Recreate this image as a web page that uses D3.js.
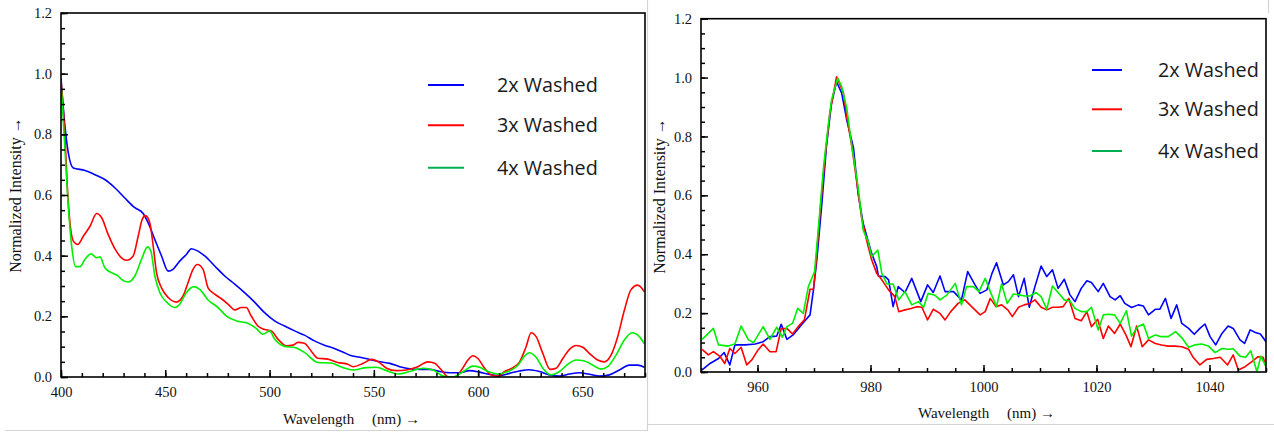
<!DOCTYPE html>
<html><head><meta charset="utf-8">
<script src="https://cdn.jsdelivr.net/npm/d3@7"></script>
<style>
html,body{margin:0;padding:0;background:#fff;}
svg{display:block;}
</style></head><body>
<svg id="c" width="1274" height="434"></svg>
<script>
// ---------- data ----------
const seriesNames = ["2x Washed", "3x Washed", "4x Washed"];
const lineColors = ["#0000ff", "#ff0000", "#00ee00"];
const legendColors = ["#0000ff", "#ff0000", "#00b050"];

const leftXTicks = [400, 450, 500, 550, 600, 650];
const rightXTicks = [960, 980, 1000, 1020, 1040];
const yTicks = [0, 0.2, 0.4, 0.6, 0.8, 1.0, 1.2];

// Left panel (visible range) : [wavelength nm, normalized intensity]
const left2x = [[400,0.985],[401.9,0.826],[403.5,0.739],[405.9,0.689],[411.5,0.681],[416.3,0.667],[421,0.651],[425.8,0.624],[430.6,0.59],[435.4,0.558],[439.4,0.539],[441.8,0.508],[445,0.453],[448.2,0.399],[451.4,0.349],[453.7,0.355],[456.9,0.382],[460.1,0.404],[462.5,0.423],[465.7,0.415],[468.9,0.399],[473.7,0.366],[478.5,0.333],[483.3,0.306],[488,0.278],[492.8,0.247],[497.6,0.212],[502.4,0.185],[507.2,0.168],[512,0.152],[516.7,0.138],[521.5,0.119],[526.3,0.105],[531.1,0.094],[535.9,0.08],[538.5,0.072],[543.3,0.065],[548.1,0.058],[552.9,0.05],[557.7,0.045],[562.4,0.034],[567.2,0.027],[572,0.025],[576.8,0.025],[581.6,0.018],[586.4,0.014],[591.1,0.014],[595.9,0.021],[600.7,0.016],[605.5,0.008],[610.3,0.005],[615.1,0.012],[619.9,0.02],[624.6,0.024],[629.4,0.018],[634.2,0.007],[639,0.003],[643.8,0.01],[648.6,0.014],[653.3,0.009],[658.1,0.003],[662.9,0.007],[667.7,0.023],[672.5,0.039],[676.5,0.039],[679.7,0.032]];
const left3x = [[400,0.98],[401.9,0.793],[403.2,0.607],[404.3,0.508],[405.9,0.448],[408,0.437],[410.7,0.464],[413.9,0.497],[417.1,0.539],[419.5,0.525],[422.6,0.47],[425.8,0.423],[429,0.393],[431.4,0.385],[434.6,0.399],[437,0.464],[438.9,0.519],[440.5,0.532],[442.6,0.508],[444.2,0.432],[445.8,0.344],[448.2,0.294],[451.4,0.262],[455.3,0.247],[458.5,0.267],[460.9,0.311],[463.3,0.355],[465.4,0.371],[468.1,0.355],[470.5,0.294],[473.7,0.273],[476.9,0.258],[480.1,0.24],[483.3,0.221],[486.5,0.229],[488.8,0.229],[491.2,0.201],[494.4,0.168],[497.6,0.157],[500.8,0.152],[504,0.125],[508,0.103],[511.2,0.105],[513.6,0.114],[516.7,0.111],[519.9,0.086],[523.1,0.062],[527.9,0.059],[532.7,0.048],[537.5,0.042],[540.1,0.034],[544.9,0.045],[548.9,0.058],[552.1,0.05],[556.1,0.029],[560.8,0.021],[565.6,0.023],[570.4,0.032],[576,0.05],[579.2,0.045],[582.4,0.023],[585.6,0.001],[588.8,0],[592,0.023],[595.1,0.056],[597.5,0.07],[599.9,0.061],[603.1,0.029],[606.3,0.007],[609.5,0.003],[612.7,0.018],[616.7,0.031],[619.9,0.05],[623,0.1],[625.4,0.146],[627.8,0.133],[631,0.078],[634.5,0.025],[637.4,0.029],[640.6,0.061],[643.8,0.091],[647,0.104],[650.2,0.098],[653.3,0.078],[657.3,0.056],[660.5,0.05],[663.7,0.072],[666.9,0.133],[670.1,0.22],[673.3,0.288],[676.5,0.303],[679.7,0.281]];
const left4x = [[400,0.975],[401.9,0.75],[403.5,0.563],[405.1,0.432],[407,0.364],[409.1,0.364],[411.5,0.388],[414.4,0.406],[417.1,0.393],[418.7,0.396],[421,0.36],[424.2,0.344],[427.4,0.333],[429,0.322],[432.2,0.313],[435.4,0.333],[438.6,0.388],[441.5,0.429],[443.1,0.415],[445,0.333],[447.4,0.278],[450.6,0.247],[454.5,0.229],[456.9,0.24],[460.1,0.278],[463.8,0.298],[466.5,0.289],[470.5,0.254],[475.3,0.229],[479.3,0.201],[484.1,0.185],[489.6,0.177],[493.6,0.16],[496.8,0.141],[500,0.152],[502.4,0.125],[507.2,0.101],[512,0.097],[516.7,0.081],[523.1,0.048],[529.5,0.046],[535,0.031],[540.1,0.023],[546.5,0.031],[551.3,0.032],[556.1,0.021],[561.6,0.01],[567.2,0.018],[573.6,0.029],[578.4,0.023],[583.2,0.003],[588,0],[592.8,0.018],[597.5,0.036],[600.7,0.032],[604.7,0.018],[609.5,0.01],[614.3,0.018],[619.1,0.039],[622.2,0.069],[624.6,0.08],[627.8,0.065],[631,0.029],[635,0.007],[639,0.018],[643,0.042],[647,0.056],[651,0.053],[655,0.039],[658.9,0.026],[662.1,0.034],[666.1,0.072],[670.1,0.122],[673.8,0.146],[677.3,0.133],[679.7,0.109]];

// Right panel (NIR range)
const right2x = [[950.2,0.007],[951.6,0.029],[953.1,0.046],[954.1,0.066],[955.1,0.024],[956,0.092],[957.8,0.092],[959.6,0.095],[961,0.103],[962.2,0.12],[963.4,0.122],[964.2,0.162],[965.2,0.111],[966.3,0.126],[967.5,0.154],[968.4,0.174],[969.3,0.194],[969.9,0.279],[970.5,0.381],[971.4,0.573],[972.2,0.766],[973.1,0.913],[974,0.986],[974.9,0.947],[975.8,0.856],[977,0.76],[977.8,0.607],[978.7,0.505],[979.6,0.443],[980.2,0.403],[981.1,0.358],[981.4,0.326],[982.6,0.324],[983.2,0.313],[984,0.222],[984.9,0.29],[986.1,0.27],[987.3,0.318],[988.9,0.239],[990.1,0.296],[991.1,0.27],[992.3,0.326],[993.2,0.273],[994.7,0.273],[996.1,0.245],[997.2,0.341],[998.5,0.296],[999.4,0.267],[1000.6,0.279],[1001.5,0.335],[1002.3,0.371],[1003.5,0.296],[1004.4,0.307],[1005.3,0.33],[1006.2,0.256],[1007.2,0.318],[1008.1,0.22],[1009.1,0.29],[1010.2,0.36],[1011.2,0.324],[1012.2,0.347],[1013.2,0.284],[1014.3,0.315],[1015.3,0.262],[1016.2,0.239],[1017.3,0.284],[1018.3,0.31],[1019.1,0.304],[1020.3,0.273],[1021.2,0.301],[1022.4,0.256],[1023.3,0.245],[1024.2,0.259],[1025,0.233],[1026.2,0.219],[1027.4,0.228],[1028.3,0.224],[1029.2,0.194],[1030.4,0.213],[1031.2,0.213],[1032.2,0.25],[1033.2,0.182],[1034.2,0.228],[1035.1,0.165],[1036.3,0.148],[1037.3,0.128],[1038.3,0.148],[1039.2,0.163],[1040.1,0.12],[1041.1,0.092],[1042.2,0.131],[1043.3,0.156],[1044.2,0.148],[1045.4,0.109],[1046.2,0.097],[1047.2,0.143],[1048.1,0.134],[1049,0.129],[1050,0.103]];
const right3x = [[950.2,0.077],[951.3,0.058],[952.2,0.069],[953.4,0.052],[954.2,0.029],[955.1,0.08],[956,0.063],[957.1,0.084],[958.1,0.024],[959,0.041],[960.1,0.075],[961,0.095],[962.2,0.069],[963.3,0.069],[964.2,0.148],[965.2,0.148],[966.2,0.129],[967.2,0.154],[968.3,0.177],[969.3,0.281],[969.9,0.281],[970.2,0.335],[971.1,0.55],[971.9,0.72],[972.8,0.879],[974,1.003],[975.2,0.949],[975.8,0.867],[976.7,0.766],[977.6,0.641],[978.4,0.528],[979.3,0.448],[980.2,0.381],[981.1,0.335],[982,0.313],[983.2,0.279],[984.3,0.256],[985,0.205],[986.1,0.211],[987.2,0.216],[988.2,0.222],[989.1,0.22],[990.1,0.177],[991.1,0.213],[992.3,0.199],[993.2,0.177],[994.2,0.205],[995.5,0.233],[996.7,0.245],[997.9,0.222],[999.4,0.194],[1000.3,0.205],[1001.2,0.25],[1002.2,0.222],[1003.2,0.228],[1004.3,0.211],[1005.1,0.188],[1006.2,0.22],[1007.2,0.228],[1008.2,0.233],[1009.1,0.245],[1010.2,0.22],[1011.2,0.211],[1012.2,0.22],[1013.2,0.22],[1014.1,0.222],[1015.1,0.25],[1016.2,0.182],[1017.3,0.174],[1018.3,0.205],[1019.1,0.154],[1020.2,0.179],[1021.2,0.114],[1022.1,0.156],[1023.2,0.131],[1024.2,0.163],[1025.2,0.126],[1026.1,0.086],[1027.1,0.156],[1028.1,0.086],[1029.2,0.109],[1030.4,0.097],[1031.5,0.092],[1032.7,0.088],[1033.9,0.088],[1035.1,0.086],[1036.3,0.077],[1037.1,0.05],[1038.3,0.024],[1039.5,0.043],[1040.7,0.046],[1041.9,0.05],[1043.2,0.024],[1044.2,0.058],[1045.1,0.007],[1046.3,0.018],[1047.5,0.035],[1048.6,0.052],[1049.5,0.05],[1050,0.018]];
const right4x = [[950.2,0.111],[952.2,0.148],[953.1,0.092],[954.8,0.088],[956,0.095],[957.1,0.156],[958.4,0.109],[959.3,0.1],[961,0.154],[962.2,0.111],[963.4,0.152],[964.4,0.118],[965.2,0.154],[966.2,0.165],[967.1,0.216],[968.1,0.199],[969,0.29],[970.1,0.341],[970.8,0.494],[971.7,0.698],[972.5,0.834],[973.1,0.924],[974.2,0.998],[974.9,0.969],[975.8,0.896],[976.7,0.766],[977.8,0.63],[978.7,0.482],[979.6,0.443],[980.2,0.392],[981.3,0.414],[982,0.335],[982.9,0.299],[984,0.299],[985,0.245],[986.1,0.273],[987.3,0.228],[988.5,0.239],[989.4,0.22],[990.2,0.267],[991.4,0.261],[992.3,0.245],[993.5,0.261],[995,0.301],[996.1,0.228],[997,0.29],[998.2,0.29],[999.2,0.273],[1000.3,0.318],[1001.2,0.273],[1002.3,0.222],[1003.2,0.299],[1004.2,0.233],[1005.3,0.265],[1006.2,0.262],[1007.3,0.258],[1008.2,0.258],[1009.3,0.27],[1010.2,0.256],[1011.2,0.213],[1012.2,0.292],[1013.2,0.27],[1014.3,0.245],[1015.3,0.241],[1016.2,0.216],[1017.3,0.205],[1018.3,0.205],[1019.1,0.22],[1020.3,0.143],[1021.2,0.194],[1022.1,0.196],[1023.2,0.194],[1024.2,0.165],[1025.3,0.208],[1026.2,0.122],[1027.3,0.154],[1028.3,0.163],[1029.2,0.114],[1030.4,0.126],[1031.5,0.12],[1032.7,0.12],[1034,0.137],[1035.2,0.114],[1036.3,0.084],[1037.4,0.092],[1038.6,0.095],[1039.8,0.088],[1041,0.066],[1042.2,0.08],[1043.3,0.077],[1044.2,0.079],[1045.4,0.054],[1046.4,0.05],[1047.3,0.072],[1048.4,0.001],[1049.1,0.054],[1050,0.018]];

// ---------- drawing ----------
const SERIF = "Liberation Serif, DejaVu Serif, Times New Roman, serif";
const svg = d3.select("#c");

// panel borders (screenshot frames)
const border = svg.append("g").attr("stroke", "#d4d4d4").attr("fill", "none").attr("stroke-width", 1.2);
border.append("path").attr("d", "M5,430.5 H647.5 V0");
border.append("path").attr("d", "M1274,424.5 H647.5");
border.append("path").attr("d", "M1268.5,0 V13");

function styleAxis(sel) {
  sel.attr("font-family", SERIF).attr("font-size", 14.5);
  sel.selectAll("text").attr("fill", "#111");
  sel.selectAll("line").attr("stroke", "#000").attr("stroke-width", 1.5);
  sel.select(".domain").remove();
}

function panel(cfg) {
  const x = d3.scaleLinear().domain(cfg.xDomain).range([cfg.left, cfg.right]);
  const y = d3.scaleLinear().domain([0, 1.2]).range([cfg.bottom, cfg.top]);
  const g = svg.append("g");
  const clipId = "clip" + cfg.id;
  g.append("clipPath").attr("id", clipId).append("rect")
    .attr("x", cfg.left).attr("y", cfg.top)
    .attr("width", cfg.right - cfg.left).attr("height", cfg.bottom - cfg.top);

  const line = d3.line().x(d => x(d[0])).y(d => y(d[1]));
  if (cfg.curve) line.curve(cfg.curve);
  const lines = g.append("g").attr("clip-path", `url(#${clipId})`);
  cfg.series.forEach((s, i) => {
    lines.append("path").datum(s).attr("d", line)
      .attr("fill", "none").attr("stroke", lineColors[i])
      .attr("stroke-width", 1.6).attr("stroke-linejoin", "round");
  });

  // ticks (inward)
  g.append("g").attr("transform", `translate(0,${cfg.bottom})`)
    .call(d3.axisBottom(x).tickValues(d3.range(cfg.xDomain[0], cfg.xDomain[1] + 0.001, cfg.xMinor)).tickSize(-4).tickFormat(""))
    .call(styleAxis);
  g.append("g").attr("transform", `translate(0,${cfg.bottom})`)
    .call(d3.axisBottom(x).tickValues(cfg.xTicks).tickSize(-7).tickPadding(10).tickFormat(d3.format("d")))
    .call(styleAxis);
  g.append("g").attr("transform", `translate(${cfg.left},0)`)
    .call(d3.axisLeft(y).tickValues(d3.range(0, 1.2001, 0.05)).tickSize(-4).tickFormat(""))
    .call(styleAxis);
  g.append("g").attr("transform", `translate(${cfg.left},0)`)
    .call(d3.axisLeft(y).tickValues(yTicks).tickSize(-7).tickPadding(9).tickFormat(d3.format(".1f")))
    .call(styleAxis);

  // frame
  g.append("rect").attr("x", cfg.left).attr("y", cfg.top)
    .attr("width", cfg.right - cfg.left).attr("height", cfg.bottom - cfg.top)
    .attr("fill", "none").attr("stroke", "#000").attr("stroke-width", 1.6);

  // axis titles
  g.append("text").attr("x", cfg.xTitleX).attr("y", cfg.xTitleY)
    .attr("font-family", SERIF).attr("font-size", 15).attr("fill", "#111")
    .text("Wavelength");
  g.append("text").attr("x", cfg.xTitleX + 89).attr("y", cfg.xTitleY)
    .attr("font-family", SERIF).attr("font-size", 15).attr("fill", "#111")
    .text("(nm) \u2192");
  g.append("text")
    .attr("transform", `translate(${cfg.yTitleX},${cfg.yTitleY}) rotate(-90)`)
    .attr("text-anchor", "middle")
    .attr("font-family", SERIF).attr("font-size", 16).attr("fill", "#111")
    .text("Normalized Intensity \u2192");

  // legend
  const lg = g.append("g");
  seriesNames.forEach((n, i) => {
    const ly = cfg.legendY[i];
    lg.append("line").attr("x1", cfg.legendX1).attr("x2", cfg.legendX2)
      .attr("y1", ly).attr("y2", ly).attr("stroke", legendColors[i]).attr("stroke-width", 2);
    lg.append("text").attr("x", cfg.legendTextX).attr("y", ly + 7)
      .attr("font-family", "Open Sans, Noto Sans, sans-serif").attr("font-size", 19.8)
      .attr("fill", "#1a1a1a").text(n);
  });
}

panel({
  id: "L", xDomain: [400, 680], left: 61, right: 645, top: 13, bottom: 377,
  xTicks: leftXTicks, xMinor: 10, series: [left2x, left3x, left4x], curve: d3.curveMonotoneX,
  xTitleX: 283, xTitleY: 424, yTitleX: 21, yTitleY: 195,
  legendX1: 428, legendX2: 464, legendTextX: 497, legendY: [85, 125.3, 167.7]
});
panel({
  id: "R", xDomain: [950, 1050], left: 701, right: 1266, top: 18.7, bottom: 372,
  xTicks: rightXTicks, xMinor: 5, series: [right2x, right3x, right4x], curve: null,
  xTitleX: 918, xTitleY: 418, yTitleX: 665, yTitleY: 196,
  legendX1: 1092, legendX2: 1122, legendTextX: 1158, legendY: [70, 109.3, 151]
});
</script>
</body></html>
